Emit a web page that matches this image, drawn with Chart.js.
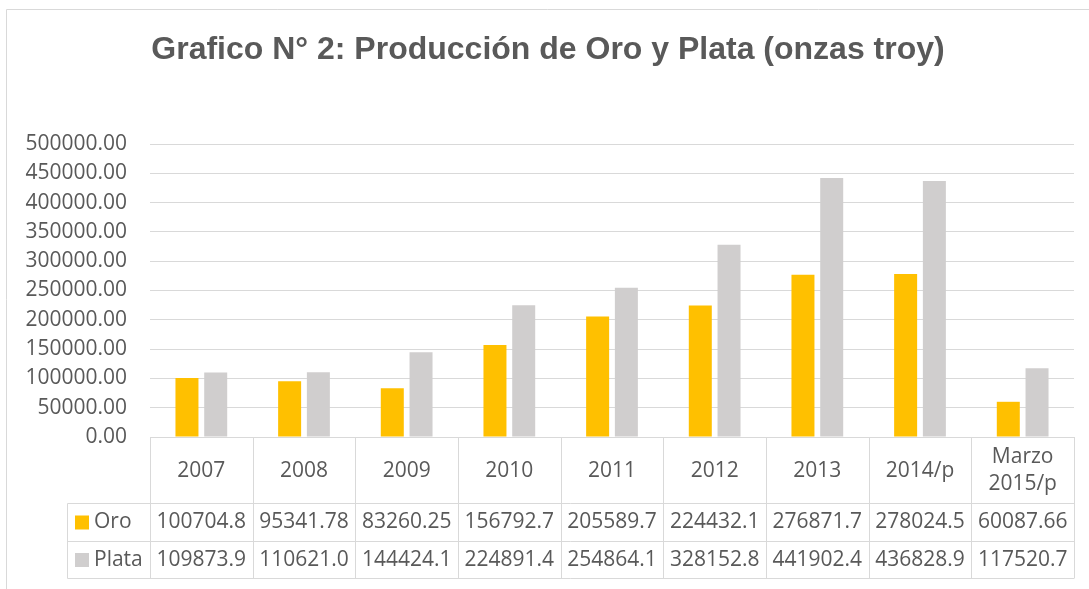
<!DOCTYPE html>
<html>
<head>
<meta charset="utf-8">
<script src="https://cdn.jsdelivr.net/npm/chart.js@4/dist/chart.umd.min.js"></script>
<style>
  html, body { margin: 0; padding: 0; background: #fff; }
  #wrap { width: 1089px; height: 589px; position: relative; }
</style>
</head>
<body>
<div id="wrap"><canvas id="grafico"></canvas></div>
<script>
// datos
const categorias = ['2007', '2008', '2009', '2010', '2011', '2012', '2013', '2014/p', ['Marzo', '2015/p']];
const oro = [100704.8, 95341.78, 83260.25, 156792.7, 205589.7, 224432.1, 276871.7, 278024.5, 60087.66];
const plata = [109873.9, 110621.0, 144424.1, 224891.4, 254864.1, 328152.8, 441902.4, 436828.9, 117520.7];
const nombres = ['Oro', 'Plata'];
const colores = ['#FFC000', '#D0CECE'];

const gris = '#595959';
const linea = '#D9D9D9';
const fuente = '"Open Sans", "Noto Sans", sans-serif';

// tabla de datos debajo del eje x + marco exterior
const tablaPlugin = {
    id: 'tabla',
    beforeDraw(chart) {
        const ctx = chart.ctx;
        ctx.save();
        ctx.strokeStyle = linea;
        ctx.lineWidth = 1;
        ctx.beginPath();
        ctx.moveTo(6.5, 589);
        ctx.lineTo(6.5, 9.5);
        ctx.lineTo(1089, 9.5);
        ctx.stroke();
        ctx.restore();
    },
    afterDraw(chart) {
        const ctx = chart.ctx;
        const xs = chart.scales.x;
        const area = chart.chartArea;
        const n = categorias.length;
        const ancho = (area.right - area.left) / n;
        const y0 = area.bottom;
        const fila1 = 503.5, fila2 = 541.5, fin = 578.5;
        const izq = 67.5;

        ctx.save();
        ctx.strokeStyle = linea;
        ctx.lineWidth = 1;
        ctx.beginPath();
        for (let i = 0; i <= n; i++) {
            const x = Math.round(area.left + i * ancho) + 0.5;
            ctx.moveTo(x, y0);
            ctx.lineTo(x, fin);
        }
        [fila1, fila2, fin].forEach(y => {
            ctx.moveTo(izq, y);
            ctx.lineTo(area.right, y);
        });
        ctx.moveTo(izq, fila1);
        ctx.lineTo(izq, fin);
        ctx.stroke();

        ctx.fillStyle = gris;
        ctx.font = '21px ' + fuente;
        ctx.textAlign = 'center';
        ctx.textBaseline = 'middle';
        categorias.forEach((c, i) => {
            const cx = xs.getPixelForValue(i);
            if (Array.isArray(c)) {
                ctx.fillText(c[0], cx, 457);
                ctx.fillText(c[1], cx, 484);
            } else {
                ctx.fillText(c, cx, 471);
            }
        });

        const series = [oro, plata];
        const filas = [(fila1 + fila2) / 2, (fila2 + fin) / 2];
        series.forEach((serie, s) => {
            serie.forEach((v, i) => {
                ctx.fillText(v.toPrecision(7), xs.getPixelForValue(i), filas[s]);
            });
            ctx.fillStyle = colores[s];
            ctx.fillRect(75, filas[s] - 7, 14, 14);
            ctx.fillStyle = gris;
            ctx.textAlign = 'left';
            ctx.fillText(nombres[s], 94, filas[s]);
            ctx.textAlign = 'center';
        });
        ctx.restore();
    }
};

new Chart(document.getElementById('grafico'), {
    type: 'bar',
    data: {
        labels: categorias,
        datasets: [{
            label: nombres[0],
            data: oro,
            backgroundColor: colores[0],
            categoryPercentage: 0.56,
            barPercentage: 0.8
        }, {
            label: nombres[1],
            data: plata,
            backgroundColor: colores[1],
            categoryPercentage: 0.56,
            barPercentage: 0.8
        }]
    },
    options: {
        responsive: true,
        maintainAspectRatio: false,
        animation: false,
        layout: { padding: { left: 22, right: 15, top: 0, bottom: 0 } },
        plugins: {
            legend: { display: false },
            tooltip: { enabled: false },
            title: {
                display: true,
                text: 'Grafico N° 2: Producción de Oro y Plata (onzas troy)',
                color: gris,
                font: { family: '"Liberation Sans", Arial, sans-serif', size: 32, weight: 'bold', lineHeight: 1.2 },
                padding: { top: 31, bottom: 74.6 }
            }
        },
        scales: {
            x: {
                ticks: { display: false },
                grid: { display: false },
                border: { display: true, color: linea, width: 1 },
                afterFit: s => { s.height = 152; }
            },
            y: {
                min: 0,
                max: 500000,
                ticks: {
                    stepSize: 50000,
                    color: gris,
                    padding: 23,
                    font: { family: fuente, size: 21 },
                    callback: v => v.toFixed(2)
                },
                grid: { color: linea, drawTicks: false, lineWidth: 1 },
                border: { display: false },
                afterFit: s => { s.width = 128; }
            }
        }
    },
    plugins: [tablaPlugin]
});
</script>
</body>
</html>
